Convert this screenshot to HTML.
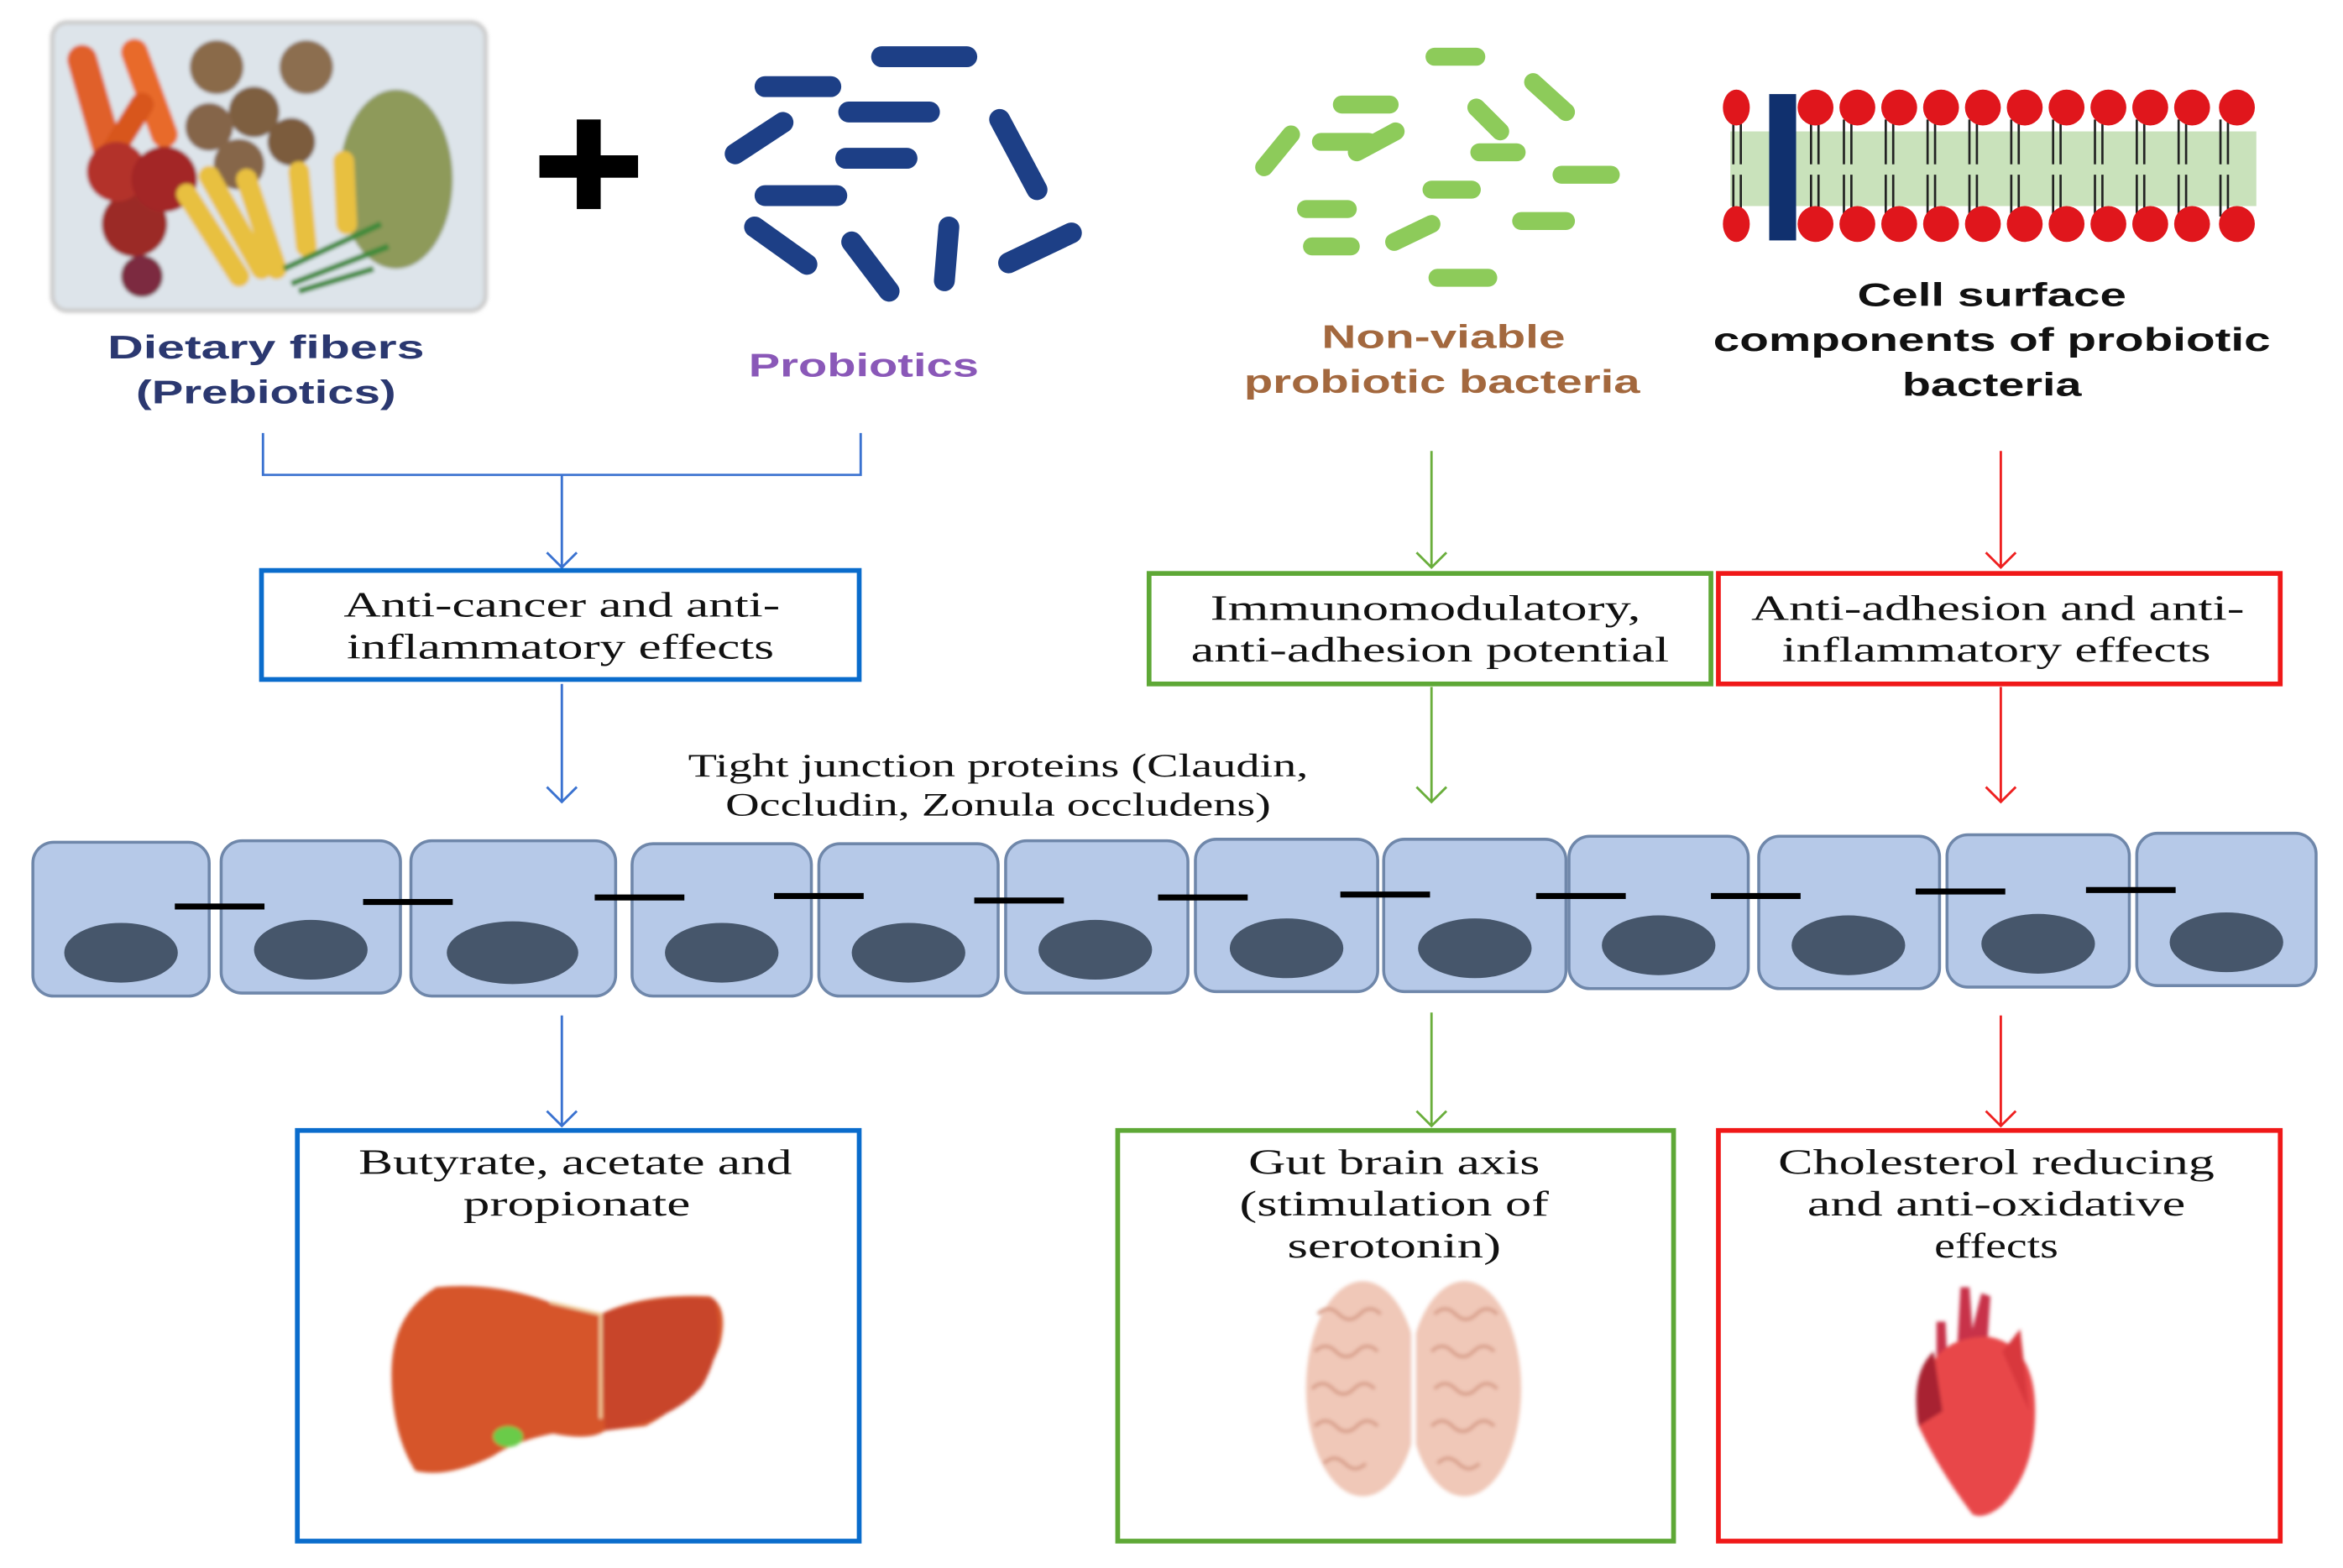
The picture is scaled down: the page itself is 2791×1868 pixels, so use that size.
<!DOCTYPE html>
<html><head><meta charset="utf-8"><style>
html,body{margin:0;padding:0;background:#fff;}
svg{display:block;}
.sans{font-family:"Liberation Sans",sans-serif;font-weight:bold;}
.serif{font-family:"Liberation Serif",serif;}
</style></head><body>
<svg width="2791" height="1868" viewBox="0 0 1568 1050" preserveAspectRatio="none" xmlns="http://www.w3.org/2000/svg">
<defs>
<filter id="bl"><feGaussianBlur stdDeviation="1.2"/></filter>
</defs>
<!-- food photo -->
<g filter="url(#bl)">
<rect x="35" y="15" width="290" height="193" rx="10" fill="#dde4ea" stroke="#ccc" stroke-width="3"/>
<g stroke-linecap="round" fill="none">
<line x1="55" y1="40" x2="75" y2="110" stroke="#e0602a" stroke-width="20"/>
<line x1="90" y1="35" x2="110" y2="90" stroke="#e86a2c" stroke-width="18"/>
<line x1="70" y1="110" x2="95" y2="70" stroke="#d8561f" stroke-width="16"/>
</g>
<circle cx="90" cy="150" r="22" fill="#9b2a28"/><circle cx="78" cy="115" r="20" fill="#b3302a"/>
<circle cx="110" cy="120" r="22" fill="#a32628"/><circle cx="95" cy="185" r="14" fill="#7b2a40"/>
<circle cx="145" cy="45" r="18" fill="#8a6a48"/><circle cx="205" cy="45" r="18" fill="#8c6e50"/>
<circle cx="170" cy="75" r="17" fill="#7e5e40"/><circle cx="140" cy="85" r="16" fill="#85654a"/>
<circle cx="195" cy="95" r="16" fill="#7c5c3e"/><circle cx="160" cy="110" r="17" fill="#86664a"/>
<ellipse cx="265" cy="120" rx="38" ry="60" fill="#8e9a5a"/>
<g stroke-linecap="round" fill="none" stroke="#e8c040" stroke-width="14">
<line x1="125" y1="130" x2="160" y2="185"/><line x1="140" y1="118" x2="175" y2="180"/>
<line x1="165" y1="120" x2="185" y2="180"/><line x1="200" y1="115" x2="205" y2="165"/>
<line x1="230" y1="108" x2="232" y2="150"/>
</g>
<g stroke="#3e8a3a" stroke-width="4" fill="none"><line x1="190" y1="180" x2="255" y2="150"/><line x1="195" y1="190" x2="260" y2="165"/><line x1="200" y1="195" x2="250" y2="180"/></g>
</g>
<!-- plus -->
<rect x="361" y="104" width="66" height="15" fill="#000"/><rect x="386" y="80" width="16" height="60" fill="#000"/>
<!-- blue bacteria -->
<g stroke="#1d3f86" stroke-width="14" stroke-linecap="round" fill="none">
<line x1="590" y1="38" x2="647" y2="38"/><line x1="512" y1="58" x2="556" y2="58"/>
<line x1="568" y1="75" x2="622" y2="75"/><line x1="492" y1="103" x2="524" y2="82"/>
<line x1="566" y1="106" x2="607" y2="106"/><line x1="669" y1="80" x2="694" y2="127"/>
<line x1="512" y1="131" x2="560" y2="131"/><line x1="505" y1="152" x2="540" y2="177"/>
<line x1="570" y1="162" x2="595" y2="195"/><line x1="635" y1="152" x2="632" y2="188"/>
<line x1="675" y1="176" x2="717" y2="156"/>
</g>
<!-- green bacteria -->
<g stroke="#8dcb5a" stroke-width="12" stroke-linecap="round" fill="none">
<line x1="960" y1="38" x2="988" y2="38"/><line x1="898" y1="70" x2="930" y2="70"/>
<line x1="1026" y1="55" x2="1048" y2="75"/><line x1="884" y1="95" x2="916" y2="95"/>
<line x1="908" y1="102" x2="934" y2="88"/><line x1="988" y1="72" x2="1004" y2="88"/>
<line x1="846" y1="112" x2="864" y2="90"/><line x1="990" y1="102" x2="1015" y2="102"/>
<line x1="1045" y1="117" x2="1078" y2="117"/><line x1="958" y1="127" x2="985" y2="127"/>
<line x1="874" y1="140" x2="902" y2="140"/><line x1="1018" y1="148" x2="1048" y2="148"/>
<line x1="933" y1="162" x2="958" y2="150"/><line x1="878" y1="165" x2="904" y2="165"/>
<line x1="962" y1="186" x2="996" y2="186"/>
</g>
<!-- membrane -->
<rect x="1158" y="88" width="352" height="50" fill="#c9e2bb"/>
<g stroke="#222" stroke-width="1.5">
<path d="M1160 80V110M1165 80V110M1160 117V145M1165 117V145M1234 80V110M1239 80V110M1234 117V145M1239 117V145M1262 80V110M1267 80V110M1262 117V145M1267 117V145M1290 80V110M1295 80V110M1290 117V145M1295 117V145M1318 80V110M1323 80V110M1318 117V145M1323 117V145M1346 80V110M1351 80V110M1346 117V145M1351 117V145M1374 80V110M1379 80V110M1374 117V145M1379 117V145M1402 80V110M1407 80V110M1402 117V145M1407 117V145M1430 80V110M1435 80V110M1430 117V145M1435 117V145M1458 80V110M1463 80V110M1458 117V145M1463 117V145M1486 80V110M1491 80V110M1486 117V145M1491 117V145M1212 80V110M1217 80V110M1212 117V145M1217 117V145"/>
</g>
<g fill="#e0161c">
<ellipse cx="1162" cy="72" rx="9" ry="12"/><ellipse cx="1162" cy="150" rx="9" ry="12"/>
<ellipse cx="1215" cy="72" rx="12" ry="12"/><ellipse cx="1243" cy="72" rx="12" ry="12"/><ellipse cx="1271" cy="72" rx="12" ry="12"/><ellipse cx="1299" cy="72" rx="12" ry="12"/><ellipse cx="1327" cy="72" rx="12" ry="12"/><ellipse cx="1355" cy="72" rx="12" ry="12"/><ellipse cx="1383" cy="72" rx="12" ry="12"/><ellipse cx="1411" cy="72" rx="12" ry="12"/><ellipse cx="1439" cy="72" rx="12" ry="12"/><ellipse cx="1467" cy="72" rx="12" ry="12"/><ellipse cx="1497" cy="72" rx="12" ry="12"/>
<ellipse cx="1215" cy="150" rx="12" ry="12"/><ellipse cx="1243" cy="150" rx="12" ry="12"/><ellipse cx="1271" cy="150" rx="12" ry="12"/><ellipse cx="1299" cy="150" rx="12" ry="12"/><ellipse cx="1327" cy="150" rx="12" ry="12"/><ellipse cx="1355" cy="150" rx="12" ry="12"/><ellipse cx="1383" cy="150" rx="12" ry="12"/><ellipse cx="1411" cy="150" rx="12" ry="12"/><ellipse cx="1439" cy="150" rx="12" ry="12"/><ellipse cx="1467" cy="150" rx="12" ry="12"/><ellipse cx="1497" cy="150" rx="12" ry="12"/>
</g>
<rect x="1184" y="63" width="18" height="98" fill="#10306e"/>
<!-- top labels -->
<g class="sans" font-size="22" text-anchor="middle" lengthAdjust="spacingAndGlyphs">
<text x="178" y="240" fill="#2b3870" textLength="212" lengthAdjust="spacingAndGlyphs">Dietary  fibers</text>
<text x="178" y="270" fill="#2b3870" textLength="174" lengthAdjust="spacingAndGlyphs">(Prebiotics)</text>
<text x="578" y="252" fill="#8a58b8" textLength="154" lengthAdjust="spacingAndGlyphs">Probiotics</text>
<text x="966" y="233" fill="#a3683e" textLength="163" lengthAdjust="spacingAndGlyphs">Non-viable</text>
<text x="965" y="263" fill="#a3683e" textLength="265" lengthAdjust="spacingAndGlyphs">probiotic bacteria</text>
<text x="1333" y="205" fill="#111" textLength="180" lengthAdjust="spacingAndGlyphs">Cell surface</text>
<text x="1333" y="235" fill="#111" textLength="373" lengthAdjust="spacingAndGlyphs">components of probiotic</text>
<text x="1333" y="265" fill="#111" textLength="120" lengthAdjust="spacingAndGlyphs">bacteria</text>
</g>
<!-- connectors -->
<g fill="none" stroke-width="1.6">
<g stroke="#3a72d0">
<path d="M176 290V318H576V290M376 318V380M366 370L376 380L386 370"/>
<path d="M376 458V537M366 527L376 537L386 527"/>
<path d="M376 680V754M366 744L376 754L386 744"/>
</g>
<g stroke="#6aae3c">
<path d="M958 302V380M948 370L958 380L968 370"/>
<path d="M958 460V537M948 527L958 537L968 527"/>
<path d="M958 678V754M948 744L958 754L968 744"/>
</g>
<g stroke="#ee2020">
<path d="M1339 302V380M1329 370L1339 380L1349 370"/>
<path d="M1339 460V537M1329 527L1339 537L1349 527"/>
<path d="M1339 680V754M1329 744L1339 754L1349 744"/>
</g>
</g>
<!-- boxes -->
<g fill="none" stroke-width="3.2">
<rect x="175" y="382" width="400" height="73" stroke="#0a6ccc"/>
<rect x="769" y="384" width="376" height="74" stroke="#5ea836"/>
<rect x="1150" y="384" width="376" height="74" stroke="#f01818"/>
<rect x="199" y="757" width="376" height="275" stroke="#0a6ccc"/>
<rect x="748" y="757" width="372" height="275" stroke="#5ea836"/>
<rect x="1150" y="757" width="376" height="275" stroke="#f01818"/>
</g>
<g class="serif" font-size="24" text-anchor="middle" fill="#111">
<text x="376" y="413" textLength="292" lengthAdjust="spacingAndGlyphs">Anti-cancer and anti-</text>
<text x="375" y="441" textLength="286" lengthAdjust="spacingAndGlyphs">inflammatory effects</text>
<text x="954" y="415" textLength="288" lengthAdjust="spacingAndGlyphs">Immunomodulatory,</text>
<text x="957" y="443" textLength="320" lengthAdjust="spacingAndGlyphs">anti-adhesion potential</text>
<text x="1337" y="415" textLength="330" lengthAdjust="spacingAndGlyphs">Anti-adhesion and anti-</text>
<text x="1336" y="443" textLength="287" lengthAdjust="spacingAndGlyphs">inflammatory effects</text>
<text x="385" y="786" textLength="290" lengthAdjust="spacingAndGlyphs">Butyrate, acetate and</text>
<text x="386" y="814" textLength="152" lengthAdjust="spacingAndGlyphs">propionate</text>
<text x="933" y="786" textLength="195" lengthAdjust="spacingAndGlyphs">Gut brain axis</text>
<text x="933" y="814" textLength="207" lengthAdjust="spacingAndGlyphs">(stimulation of</text>
<text x="933" y="842" textLength="143" lengthAdjust="spacingAndGlyphs">serotonin)</text>
<text x="1336" y="786" textLength="292" lengthAdjust="spacingAndGlyphs">Cholesterol reducing</text>
<text x="1336" y="814" textLength="253" lengthAdjust="spacingAndGlyphs">and anti-oxidative</text>
<text x="1336" y="842" textLength="83" lengthAdjust="spacingAndGlyphs">effects</text>
</g>
<g class="serif" font-size="22" text-anchor="middle" fill="#111">
<text x="668" y="520" textLength="415" lengthAdjust="spacingAndGlyphs">Tight junction proteins (Claudin,</text>
<text x="668" y="546" textLength="365" lengthAdjust="spacingAndGlyphs">Occludin, Zonula occludens)</text>
</g>
<!-- cells -->
<g fill="#b6c9e8" stroke="#6f87aa" stroke-width="2">
<rect x="22" y="564" width="118" height="103" rx="14"/>
<rect x="148" y="563" width="120" height="102" rx="14"/>
<rect x="275" y="563" width="137" height="104" rx="14"/>
<rect x="423" y="565" width="120" height="102" rx="14"/>
<rect x="548" y="565" width="120" height="102" rx="14"/>
<rect x="673" y="563" width="122" height="102" rx="14"/>
<rect x="800" y="562" width="122" height="102" rx="14"/>
<rect x="926" y="562" width="122" height="102" rx="14"/>
<rect x="1050" y="560" width="120" height="102" rx="14"/>
<rect x="1177" y="560" width="121" height="102" rx="14"/>
<rect x="1303" y="559" width="122" height="102" rx="14"/>
<rect x="1430" y="558" width="120" height="102" rx="14"/>
</g>
<g fill="#46566b">
<ellipse cx="81" cy="638" rx="38" ry="20"/>
<ellipse cx="208" cy="636" rx="38" ry="20"/>
<ellipse cx="343" cy="638" rx="44" ry="21"/>
<ellipse cx="483" cy="638" rx="38" ry="20"/>
<ellipse cx="608" cy="638" rx="38" ry="20"/>
<ellipse cx="733" cy="636" rx="38" ry="20"/>
<ellipse cx="861" cy="635" rx="38" ry="20"/>
<ellipse cx="987" cy="635" rx="38" ry="20"/>
<ellipse cx="1110" cy="633" rx="38" ry="20"/>
<ellipse cx="1237" cy="633" rx="38" ry="20"/>
<ellipse cx="1364" cy="632" rx="38" ry="20"/>
<ellipse cx="1490" cy="631" rx="38" ry="20"/>
</g>
<g stroke="#000" stroke-width="4">
<line x1="117" y1="607" x2="177" y2="607"/>
<line x1="243" y1="604" x2="303" y2="604"/>
<line x1="398" y1="601" x2="458" y2="601"/>
<line x1="518" y1="600" x2="578" y2="600"/>
<line x1="652" y1="603" x2="712" y2="603"/>
<line x1="775" y1="601" x2="835" y2="601"/>
<line x1="897" y1="599" x2="957" y2="599"/>
<line x1="1028" y1="600" x2="1088" y2="600"/>
<line x1="1145" y1="600" x2="1205" y2="600"/>
<line x1="1282" y1="597" x2="1342" y2="597"/>
<line x1="1396" y1="596" x2="1456" y2="596"/>
</g>
<!-- liver -->
<g filter="url(#bl)">
<path d="M292 862 Q330 858 368 872 L402 880 Q430 866 475 868 Q488 875 482 900 Q470 935 432 955 L405 958 Q395 965 370 960 Q345 965 330 975 Q300 990 278 985 Q262 960 262 920 Q262 880 292 862Z" fill="#d6552a"/>
<path d="M402 880 Q440 866 478 870 Q486 900 470 928 Q450 952 405 958Z" fill="#c8452a"/>
<path d="M368 872 L402 880 L402 950" stroke="#f2d2a0" stroke-width="2" fill="none"/>
<ellipse cx="340" cy="962" rx="10" ry="7" fill="#6acb48"/>
</g>
<!-- brain -->
<g filter="url(#bl)">
<ellipse cx="912" cy="930" rx="38" ry="72" fill="#f0c8b8"/>
<ellipse cx="980" cy="930" rx="38" ry="72" fill="#f0c8b8"/>
<g fill="none" stroke="#d9a08c" stroke-width="2.5">
<path d="M882 880q7-7 14 0t14 0t14 0M880 905q7-7 14 0t14 0t14 0M878 930q7-7 14 0t14 0t14 0M880 955q7-7 14 0t14 0t14 0M886 980q7-7 14 0t14 0M960 880q7-7 14 0t14 0t14 0M958 905q7-7 14 0t14 0t14 0M960 930q7-7 14 0t14 0t14 0M958 955q7-7 14 0t14 0t14 0M962 980q7-7 14 0t14 0"/>
</g>
<line x1="946" y1="862" x2="946" y2="1000" stroke="#fff" stroke-width="3"/>
</g>
<!-- heart -->
<g filter="url(#bl)">
<path d="M1310 900 L1312 862 L1318 862 L1320 890 L1326 866 L1332 868 L1330 900 Z" fill="#c8324a"/>
<path d="M1296 885 L1302 885 L1304 930 L1296 930Z" fill="#c8324a"/>
<path d="M1288 925 Q1296 895 1330 895 Q1362 900 1362 945 Q1362 985 1340 1008 Q1328 1018 1320 1014 Q1298 985 1284 955 Q1280 940 1288 925Z" fill="#e8464a"/>
<path d="M1284 955 Q1278 920 1294 905 L1300 945Z" fill="#a82230"/>
<path d="M1340 905 L1352 890 L1358 945 Z" fill="#d8383e"/>
</g>
</svg>
</body></html>
